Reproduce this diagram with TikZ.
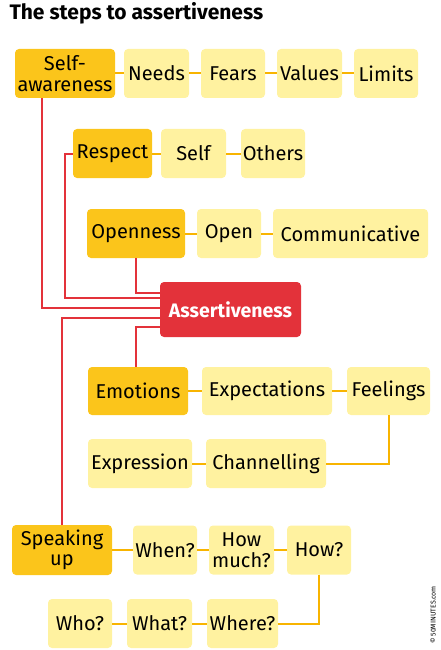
\documentclass[tikz,border=0pt]{standalone}
\usepackage{fontspec}
\setmainfont{Fira Sans}
\usepackage{xcolor}
\definecolor{keyyellow}{HTML}{FBC51B}
\definecolor{leafyellow}{HTML}{FFF2A0}
\definecolor{lineorange}{HTML}{F8B400}
\definecolor{hubred}{HTML}{E3323A}

\begin{document}
\begin{tikzpicture}[x=1pt,y=-1pt,
  box/.style={rounded corners=4pt,inner sep=0pt,minimum height=49pt,align=center,
    font=\fontsize{20}{20.5}\selectfont},
  key/.style={box,fill=keyyellow},
  leaf/.style={box,fill=leafyellow},
  hub/.style={box,fill=hubred,text=white,minimum height=55pt,
    font=\fontsize{19.5}{20}\selectfont\bfseries},
  thread/.style={draw=lineorange,line width=2pt},
  spine/.style={draw=hubred,line width=2pt}]
  \useasboundingbox (0,0) rectangle (441,650);

  \node[anchor=west,font=\fontsize{21}{22}\selectfont\bfseries] (title) at (6,13) {The steps to assertiveness};

  \node[key,minimum width=100pt]  (aware)   at (65,73.5)    {Self-\\awareness};
  \node[leaf,minimum width=65pt]  (needs)   at (156.5,73.5) {Needs};
  \node[leaf,minimum width=64pt]  (fears)   at (233,73.5)   {Fears};
  \node[leaf,minimum width=65pt]  (values)  at (309.5,73.5) {Values};
  \node[leaf,minimum width=64pt]  (limits)  at (386,73.5)   {Limits};

  \node[key,minimum width=79pt]   (respect) at (112.5,153.5) {Respect};
  \node[leaf,minimum width=65pt]  (self)    at (193.5,153.5) {Self};
  \node[leaf,minimum width=64pt]  (others)  at (273,153.5)   {Others};

  \node[key,minimum width=98pt]   (openness) at (136,233.5)  {Openness};
  \node[leaf,minimum width=64pt]  (open)     at (229,233.5)  {Open};
  \node[leaf,minimum width=155pt] (comm)     at (350.5,233.5) {Communicative};

  \node[hub,minimum width=141pt]  (assert)  at (230.5,309.5) {Assertiveness};

  \node[key,minimum width=100pt,minimum height=48pt]  (emotions) at (138,391)   {Emotions};
  \node[leaf,minimum width=130pt,minimum height=48pt] (expect)   at (267,391)   {Expectations};
  \node[leaf,minimum width=83pt,minimum height=48pt]  (feel)     at (388.5,391) {Feelings};
  \node[leaf,minimum width=104pt] (express) at (140,463.5) {Expression};
  \node[leaf,minimum width=120pt] (channel) at (266,463.5) {Channelling};

  \node[key,minimum width=100pt,minimum height=50pt] (speak) at (62,550) {Speaking\\up};
  \node[leaf,minimum width=64pt]  (when)    at (165,550)   {When?};
  \node[leaf,minimum width=65pt]  (howmuch) at (241.5,550) {How\\much?};
  \node[leaf,minimum width=64pt]  (how)     at (319,550)   {How?};
  \node[leaf,minimum width=64pt]  (who)     at (80,623.5)    {Who?};
  \node[leaf,minimum width=65pt]  (what)    at (159.5,623.5) {What?};
  \node[leaf,minimum width=71pt]  (where)   at (242.5,623.5) {Where?};

  \node[rotate=90,font=\fontsize{7}{8}\selectfont] (credit) at (433,615) {© 50MINUTES.com};

  \path[thread] (aware) -- (needs) -- (fears) -- (values) -- (limits)
    (respect) -- (self) -- (others)
    (openness) -- (open) -- (comm)
    (emotions) -- (expect) -- (feel)
    (feel.south) |- (channel.east)
    (channel) -- (express)
    (speak) -- (when) -- (howmuch) -- (how)
    (how.south) |- (where.east)
    (where) -- (what) -- (who);

  \path[spine] ([xshift=-23pt]aware.south) |- ([yshift=1.5pt]assert.west)
    (respect.west) -- ++(-8,0) |- ([yshift=11.5pt]assert.west)
    (openness.south) |- ([yshift=16.5pt]assert.west)
    ([yshift=-8.5pt]assert.west) -| (speak.north)
    ([yshift=-17.5pt]assert.west) -| ([xshift=-2pt]emotions.north);
\end{tikzpicture}
\end{document}
